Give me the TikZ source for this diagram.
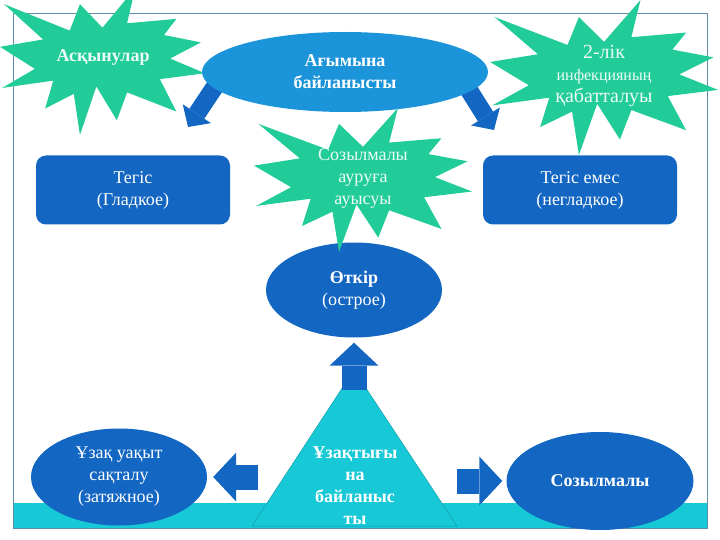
\documentclass[tikz,border=0pt]{standalone}
\usepackage{fontspec}
\setmainfont{Liberation Serif}
\usetikzlibrary{shapes.geometric,arrows.meta}

\definecolor{burstgreen}{RGB}{34,204,153}
\definecolor{lightblue}{RGB}{28,148,218}
\definecolor{darkblue}{RGB}{19,103,194}
\definecolor{bandcyan}{RGB}{23,200,214}
\definecolor{framegray}{RGB}{95,140,170}

% outline of the explosion shape in a unit box (y down)
\newcommand{\burstoutline}{(0.50,0.27) -- (0.39,0.11) -- (0.34,0.29) -- (0.02,0.11) -- (0.21,0.35) -- (0.00,0.40) -- (0.17,0.55) -- (0.01,0.68) -- (0.26,0.63) -- (0.22,0.82) -- (0.36,0.72) -- (0.39,1.00) -- (0.47,0.67) -- (0.57,0.90) -- (0.62,0.71) -- (0.86,0.84) -- (0.78,0.62) -- (1.00,0.58) -- (0.83,0.48) -- (0.98,0.37) -- (0.80,0.32) -- (0.86,0.21) -- (0.62,0.24) -- (0.66,0.00) -- cycle}

\begin{document}
\begin{tikzpicture}[x=1pt, y=-1pt,
    txt/.style={text=white, align=center, font=\fontsize{18}{22}\selectfont},
    boldtxt/.style={txt, font=\bfseries\fontsize{18}{22}\selectfont},
    bursttxt/.style={txt, text=white!92!burstgreen},
    burst/.style={fill=burstgreen},
    roundbox/.style={txt, rectangle, rounded corners=10pt, fill=darkblue, minimum width=194pt, minimum height=69pt},
    oval/.style={ellipse, fill=darkblue, inner sep=0pt},
    bigarrow/.style={darkblue, line width=25pt, -{Triangle[length=23pt, width=49pt, line width=0pt]}},
    slimarrow/.style={darkblue, line width=18pt, -{Triangle[length=16pt, width=34pt, line width=0pt]}}]
    \useasboundingbox (0,0) rectangle (720,540);
    % frame and bottom band
    \fill[bandcyan] (13,503) rectangle (707,528);
    \draw[framegray, line width=0.8pt] (13,13) rectangle (707,528);

    \begin{scope}[shift={(0,-12)}, x=205pt, y=-147pt]
        \fill[burst] \burstoutline;
    \end{scope}
    \node[bursttxt, font=\bfseries\fontsize{18}{22}\selectfont] (complic) at (103,58) {Асқынулар};

    % arrows out of the top oval
    \coordinate (flowL) at (222,76);
    \coordinate (flowR) at (462,79);
    \coordinate (smoothTip) at (188,127);
    \coordinate (roughTip) at (494,130);
    \draw[slimarrow] (flowL) -- (smoothTip);
    \draw[slimarrow] (flowR) -- (roughTip);
    \node[boldtxt, ellipse, fill=lightblue, inner sep=0pt, minimum width=286pt, minimum height=80pt] (flow) at (345,72) {Ағымына\\байланысты};

    \begin{scope}[shift={(490,0)}, x=228pt, y=-155pt]
        \fill[burst] \burstoutline;
    \end{scope}
    \node[bursttxt] (infect) at (604,76) {{\fontsize{20}{22}\selectfont 2-лік}\\{\fontsize{16}{22}\selectfont инфекцияның}\\{\fontsize{20}{22}\selectfont қабатталуы}};

    \node[roundbox] (smooth) at (133,190) {Тегіс\\(Гладкое)};
    \node[roundbox] (rough) at (580,190) {Тегіс емес\\(негладкое)};

    \node[txt, oval, minimum width=176pt, minimum height=95pt] (acute) at (354,290) {\textbf{Өткір}\\(острое)};

    \begin{scope}[shift={(254,108)}, x=218pt, y=-144pt]
        \fill[burst] \burstoutline;
    \end{scope}
    \node[bursttxt] (turn) at (363,178) {Созылмалы\\ауруға\\ауысуы};

    % triangle and the three block arrows
    \filldraw[fill=bandcyan, draw=bandcyan!80!black, line width=0.5pt] (354,370) -- (457,526) -- (252,526) -- cycle;
    \node[boldtxt] (span) at (355,486) {Ұзақтығы\\на\\байланыс\\ты};
    \node[txt, oval, minimum width=176pt, minimum height=97pt] (lasting) at (119,477) {Ұзақ уақыт\\сақталу\\(затяжное)};
    \node[boldtxt, oval, minimum width=187pt, minimum height=98pt] (chronic) at (600,481) {Созылмалы};
    \coordinate (spanTop) at (354,390);
    \coordinate (spanL) at (258,477);
    \coordinate (spanR) at (457,481);
    \draw[bigarrow, shorten >=5pt] (spanTop) -- (acute.south);
    \draw[bigarrow, shorten >=6pt] (spanL) -- (lasting.east);
    \draw[bigarrow, shorten >=4pt] (spanR) -- (chronic.west);
\end{tikzpicture}
\end{document}
